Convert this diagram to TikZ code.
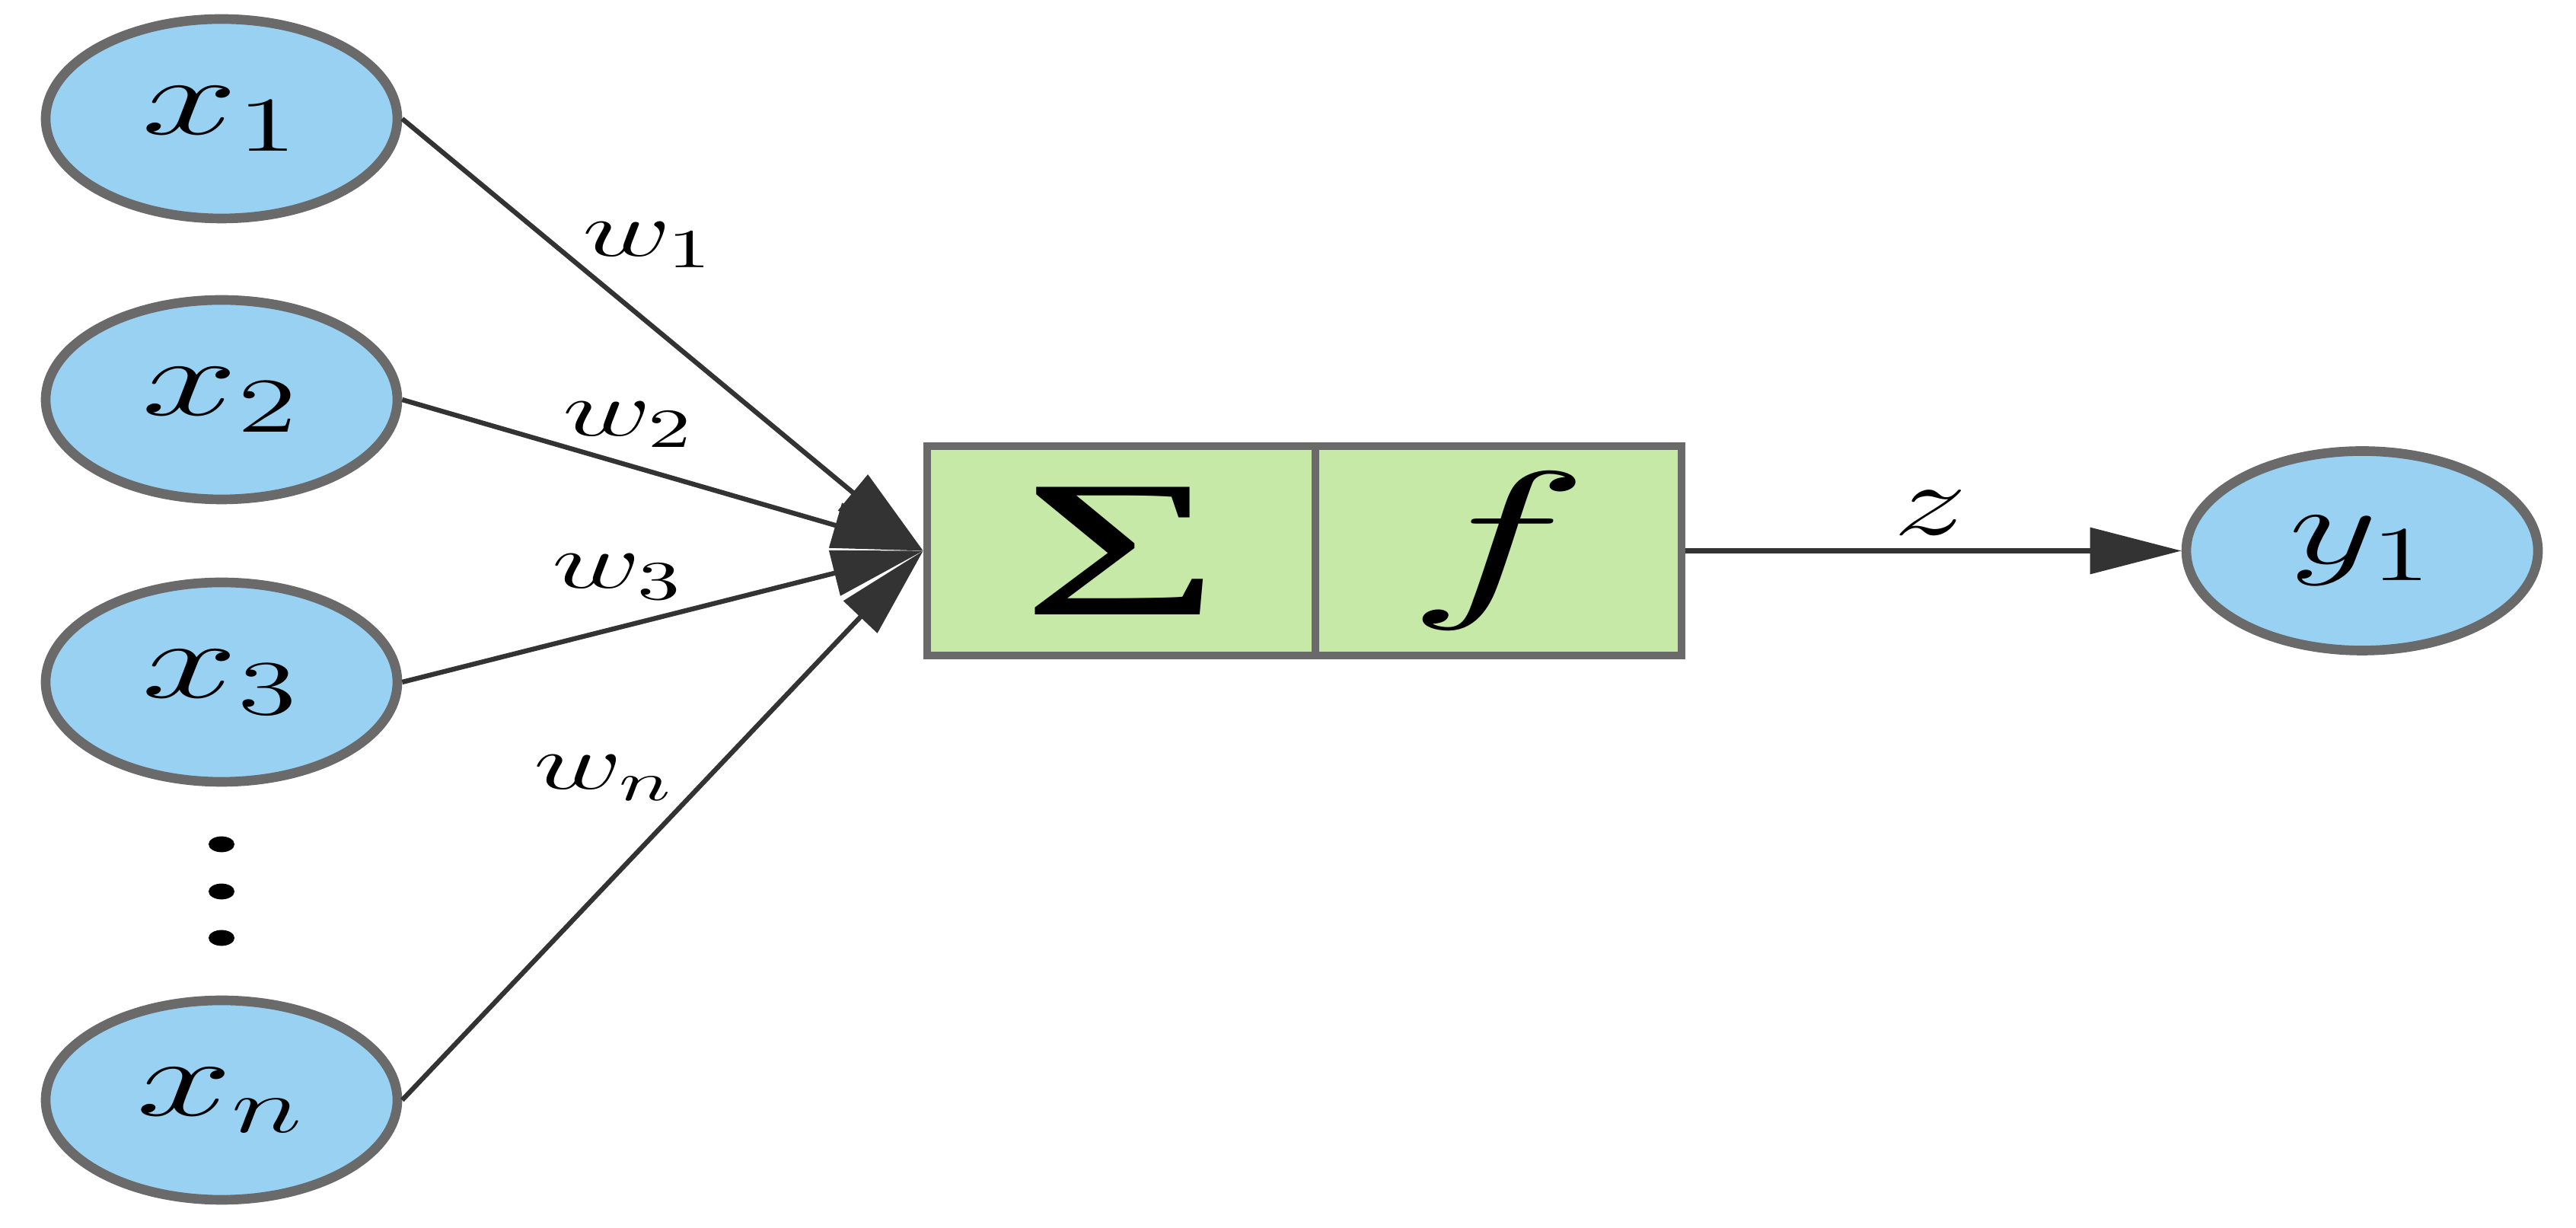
\documentclass[tikz,border=0pt]{standalone}
\usepackage{fix-cm}
\usepackage{fontspec}
\setmainfont{Liberation Serif}
\usepackage{graphicx}
\usetikzlibrary{arrows.meta,positioning,shapes.geometric}
\definecolor{inblue}{RGB}{153,209,243}
\definecolor{sumgreen}{RGB}{198,233,168}
\definecolor{rimgray}{RGB}{106,106,106}
\definecolor{wiregray}{RGB}{51,51,51}
\newcommand{\stretched}[2][1.55]{\scalebox{#1}[1]{#2}}
\newcommand{\ivar}[2]{\stretched{$#1_{#2}$}}

\begin{document}
\begin{tikzpicture}[
    neuron/.style={ellipse, draw=rimgray, line width=1.8pt, fill=inblue, minimum width=2.31cm, minimum height=1.31cm, inner sep=0pt, font=\fontsize{20.7}{22}\selectfont},
    cell/.style={rectangle, draw=rimgray, line width=1.5pt, fill=sumgreen, minimum height=1.375cm, inner sep=0pt},
    wire/.style={draw=wiregray, line width=0.9pt, -{Triangle[length=0.6cm, width=0.3cm]}},
    weight/.style={font=\fontsize{14.7}{16}\selectfont, inner sep=0pt}]
      \useasboundingbox (0, 0) rectangle (16.92, -8.065);

      % inputs
      \node[neuron] (x1) at (1.455, -0.78) {\ivar{x}{1}};
      \node[neuron] (x2) at (1.455, -2.625) {\ivar{x}{2}};
      \node[neuron] (x3) at (1.455, -4.48) {\ivar{x}{3}};
      \node[neuron] (xn) at (1.455, -7.225) {\ivar{x}{n}};

      \foreach \y in {-5.545, -5.855, -6.16}
        \fill (1.455, \y) ellipse [x radius=0.085, y radius=0.052];

      % sum and activation
      \node[cell, minimum width=2.55cm, font=\fontsize{36.4}{38}\selectfont] (sig) at (7.365, -3.6175) {\stretched[1.75]{Σ}};
      \node[cell, minimum width=2.405cm, font=\fontsize{33}{35}\selectfont] (act) at (9.8425, -3.6175) {\stretched[1.75]{$f$}};

      % output
      \node[neuron] (y1) at (15.515, -3.6175) {\ivar{y}{1}};

      \draw[wire] (x1.east) -- (sig.west);
      \draw[wire] (x2.east) -- (sig.west);
      \draw[wire] (x3.east) -- (sig.west);
      \draw[wire] (xn.east) -- (sig.west);
      \draw[wire] (act.east) -- (y1.west);

      \node[weight] (w1) at (4.26, -1.61) {\ivar{w}{1}};
      \node[weight] (w2) at (4.13, -2.79) {\ivar{w}{2}};
      \node[weight] (w3) at (4.06, -3.79) {\ivar{w}{3}};
      \node[weight] (wn) at (3.97, -5.11) {\ivar{w}{n}};
      \node[weight, font=\fontsize{19}{21}\selectfont] (zlabel) at (12.68, -3.37) {\stretched[1.45]{$z$}};
    \end{tikzpicture}
\end{document}
